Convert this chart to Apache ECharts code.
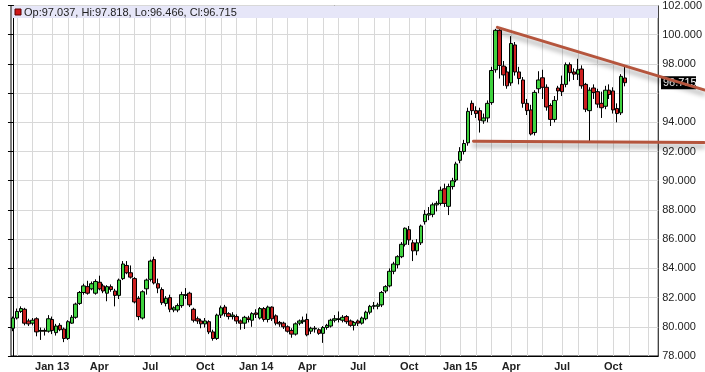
<!DOCTYPE html>
<html><head><meta charset="utf-8">
<script src="https://cdn.jsdelivr.net/npm/echarts@6/dist/echarts.min.js"></script>
<style>html,body{margin:0;padding:0;background:#fff}#c{width:705px;height:372px}</style>
</head><body><div id="c"></div>
<script>
// Weekly US Dollar Index candles, first week starting Mon 2012-10-29
const firstWeek = '2012-10-29';
const slotCount = 165; // weeks on the axis (data + empty space at right)

const weekOpen = [79.9,80.6,81.05,81.2,80.4,80.25,80.55,79.7,79.75,79.7,80.5,79.6,80.1,79.85,79.2,80.25,80.65,81.6,82.35,82.75,82.6,82.3,83.05,82.8,82.3,82.75,82.45,82.15,83.3,84.2,83.7,83.3,81.95,80.6,82.6,83.25,84.6,82.95,82.55,81.6,82.0,81.15,81.15,81.45,82.15,82.3,81.2,80.55,80.4,80.2,80.35,79.65,79.2,80.8,81.35,80.9,80.7,80.7,80.4,80.25,80.6,80.45,80.95,80.6,81.25,80.5,81.35,80.75,80.3,80.25,80.0,79.75,79.5,80.25,80.35,80.5,79.7,79.85,79.8,79.55,79.95,80.05,80.45,80.5,80.45,80.7,80.4,80.1,80.4,80.25,80.55,81.0,81.4,81.4,81.5,82.45,82.8,83.8,84.25,84.8,85.65,86.65,85.75,85.2,85.75,87.2,87.65,87.7,88.35,88.45,89.45,88.25,89.6,90.05,91.4,92.0,92.6,95.3,94.8,94.8,94.1,94.3,95.35,97.6,100.3,97.85,97.45,96.7,99.3,97.45,96.9,95.3,94.85,93.3,96.3,97.05,96.4,95.15,94.2,96.35,96.6,96.6,97.95,97.45,97.3,97.65,96.6,94.8,96.35,96.1,95.3,95.1,96.2,96.15,94.95,94.65,97.037];
const weekHigh = [80.7,81.25,81.4,81.3,80.55,80.6,80.65,79.95,79.9,80.8,80.7,80.2,80.25,79.95,80.45,80.8,81.65,82.45,82.95,83.15,83.1,83.25,83.5,82.95,82.85,82.9,82.6,83.3,84.5,84.5,84.2,83.4,82.1,82.5,83.3,84.6,84.8,83.3,82.7,82.1,82.2,81.4,81.6,82.4,82.65,82.4,81.3,80.7,80.55,80.6,80.45,79.8,80.9,81.45,81.5,81.0,81.0,80.85,80.5,80.75,80.75,81.0,81.2,81.35,81.35,81.45,81.4,80.85,80.4,80.35,80.1,79.9,80.3,80.5,80.7,80.9,80.0,80.05,79.9,80.05,80.2,80.55,80.8,81.05,80.8,80.8,80.5,80.4,80.5,80.7,81.1,81.5,81.7,81.65,82.45,82.85,84.0,84.45,84.9,85.8,86.8,86.9,85.95,86.0,87.0,88.0,88.2,88.5,88.6,89.6,89.8,89.8,90.2,91.3,92.3,92.8,95.0,95.5,95.1,95.0,94.6,95.5,97.8,100.4,100.45,98.2,97.8,99.9,99.5,97.8,97.1,95.6,95.2,96.2,97.5,97.6,96.6,95.3,95.8,96.5,97.2,98.1,98.1,97.7,98.35,97.9,96.7,96.4,96.6,96.3,96.1,96.5,96.6,96.4,95.3,97.3,97.818];
const weekLow = [79.7,80.5,80.95,80.1,80.05,80.1,79.35,79.1,79.4,79.6,79.5,79.4,79.7,78.95,79.1,80.2,80.55,81.5,82.2,82.2,82.5,82.2,82.5,82.3,81.75,82.4,81.4,81.9,83.2,83.6,83.3,81.6,80.45,80.5,82.2,83.1,82.9,82.3,81.5,81.4,81.0,81.0,81.0,81.3,81.9,81.35,80.3,80.2,79.9,79.95,79.5,79.05,79.1,80.6,80.7,80.5,80.5,80.2,79.8,79.85,80.3,80.0,80.6,80.5,80.35,80.3,80.4,80.1,80.0,79.85,79.6,79.25,79.4,80.1,80.2,79.35,79.5,79.6,79.45,78.9,79.8,79.95,80.3,80.3,80.3,80.2,80.0,79.75,80.05,80.15,80.45,80.85,81.2,81.2,81.35,82.3,82.7,83.6,84.0,84.7,85.5,85.6,84.5,84.9,85.6,87.0,87.3,87.5,87.9,88.3,88.2,87.65,89.4,89.9,91.2,91.8,92.4,94.5,94.3,93.3,93.9,94.0,95.2,97.4,97.0,96.5,96.3,96.5,97.2,96.6,95.0,94.5,93.1,93.1,96.0,95.6,94.8,93.75,94.0,95.5,95.8,96.4,96.8,96.9,96.9,96.3,94.7,92.7,95.6,95.0,94.3,94.9,95.6,94.6,94.0,94.5,96.466];
const weekClose = [80.6,81.05,81.25,80.25,80.2,80.45,79.65,79.75,79.7,80.55,79.75,80.05,79.8,79.2,80.35,80.65,81.55,82.35,82.8,82.3,82.95,83.1,82.6,82.45,82.75,82.55,82.15,83.2,84.3,83.7,83.4,81.7,80.7,82.4,83.2,84.5,83.0,82.65,81.65,81.95,81.2,81.3,81.45,82.2,82.2,81.5,80.45,80.4,80.2,80.4,79.65,79.2,80.8,81.3,80.9,80.7,80.8,80.4,80.25,80.65,80.5,80.9,80.85,81.25,80.5,81.35,80.55,80.25,80.2,80.0,79.7,79.5,80.2,80.4,80.45,79.45,79.9,79.9,79.55,79.95,80.1,80.45,80.55,80.55,80.65,80.35,80.1,80.3,80.25,80.6,81.0,81.4,81.45,81.5,82.35,82.75,83.8,84.3,84.8,85.65,86.75,85.95,85.2,85.75,86.9,87.7,87.75,88.35,88.45,89.35,88.45,89.6,90.0,91.15,92.0,92.55,94.75,94.8,94.6,94.15,94.3,95.3,97.55,100.3,97.9,97.25,96.5,99.4,97.45,97.0,95.3,94.8,93.2,96.05,96.9,96.4,95.05,94.2,95.5,96.15,96.1,97.95,97.4,97.3,97.6,96.5,94.9,96.2,96.05,95.25,95.0,96.2,95.9,94.85,94.6,97.15,96.715];

// quarterly tick labels (first Monday of the month)
const tickDates = ['2013-01-07','2013-04-01','2013-07-01','2013-10-07','2014-01-06','2014-04-07','2014-07-07','2014-10-06','2015-01-05','2015-04-06','2015-07-06','2015-10-05'];
const tickNames = ['Jan 13','Apr','Jul','Oct','Jan 14','Apr','Jul','Oct','Jan 15','Apr','Jul','Oct'];

// hand-drawn trend lines: [week index, value]
const upperTrend = [[123.5, 100.5], [176.2, 96.22]];
const lowerTrend = [[117.4, 92.70], [176.2, 92.62]];

const yMin = 78, yMax = 102, yStep = 2;

// ---- build ----
const weekDates = [];
const t0 = Date.parse(firstWeek + 'T00:00:00Z');
for (let i = 0; i < slotCount; i++) {
  weekDates.push(new Date(t0 + i * 7 * 86400000).toISOString().slice(0, 10));
}
const candles = weekOpen.map((o, i) => [o, weekClose[i], weekLow[i], weekHigh[i]]);
const tickMap = {};
tickDates.forEach((d, i) => tickMap[d] = tickNames[i]);
const last = candles.length - 1;
const lastClose = weekClose[last];

const chart = echarts.init(document.getElementById('c'), null, {renderer: 'canvas'});
const FONT = 'Liberation Sans, Arial, sans-serif';
const TREND = '#b5553d';

const option = {
  animation: false,
  backgroundColor: '#fff',
  grid: {left: 11, right: 46, top: 5, bottom: 16, show: true, borderColor: '#000', borderWidth: 1, backgroundColor: 'transparent'},
  xAxis: [{
    type: 'category', data: weekDates, boundaryGap: true,
    axisLine: {lineStyle: {color: '#000', width: 1}},
    axisTick: {show: false},
    axisLabel: {
      interval: (idx, val) => tickMap[val] !== undefined,
      formatter: v => tickMap[v] || '',
      fontFamily: FONT, fontSize: 11, fontWeight: 'bold', color: '#222', margin: 5
    },
    splitLine: {show: true, alignWithLabel: true, interval: (idx, val) => +val.slice(8) <= 7,
      lineStyle: {color: '#d8d8d8', width: 1}}
  }, {
    type: 'value', min: -0.5, max: slotCount - 0.5, show: false, splitLine: {show: false}
  }],
  yAxis: {
    type: 'value', position: 'right', min: yMin, max: yMax, interval: yStep, scale: true,
    axisLine: {show: true, lineStyle: {color: '#000'}},
    axisTick: {show: true, inside: true, length: 5, lineStyle: {color: '#000'}},
    axisLabel: {fontFamily: FONT, fontSize: 11, color: '#222', margin: 4,
      formatter: v => (Math.abs(v - 96) < 1e-9 ? '' : v.toFixed(3))},
    splitLine: {show: true, lineStyle: {color: '#d8d8d8', width: 1}}
  },
  series: [{
    type: 'candlestick', data: candles, barWidth: 4,
    itemStyle: {color: '#3fd23f', color0: '#cc2020', borderColor: '#000', borderColor0: '#000', borderWidth: 1},
    z: 2
  }]
};
chart.setOption(option);

const toPx = p => chart.convertToPixel({xAxisIndex: 1, yAxisIndex: 0}, p);
const trendShape = pts => {
  const a = toPx(pts[0]), b = toPx(pts[1]);
  return {x1: a[0], y1: a[1], x2: b[0], y2: b[1]};
};
const trendStyle = {stroke: TREND, lineWidth: 3, lineCap: 'round', shadowColor: 'rgba(0,0,0,0.38)', shadowBlur: 5, shadowOffsetY: 4};
const py = chart.convertToPixel({yAxisIndex: 0}, lastClose);
const fmt = v => v.toFixed(3);
chart.setOption({
  graphic: [
    {type: 'rect', z: 1, shape: {x: 12, y: 6, width: 646, height: 12}, style: {fill: '#e6e6f8'}},
    {type: 'rect', z: 1, shape: {x: 15, y: 9, width: 6, height: 6}, style: {fill: '#d01818', stroke: '#5a0000', lineWidth: 1}},
    {type: 'text', z: 1, x: 24, y: 12.5, style: {
      text: 'Op:' + fmt(weekOpen[last]) + ', Hi:' + fmt(weekHigh[last]) + ', Lo:' + fmt(weekLow[last]) + ', Cl:' + fmt(lastClose),
      font: '11px ' + FONT, fill: '#222', verticalAlign: 'middle'}},
    {type: 'rect', z: 1, shape: {x: 661, y: py - 6.5, width: 35, height: 13}, style: {fill: '#000'}},
    {type: 'text', z: 1, x: 663, y: py + 0.5, style: {text: lastClose.toFixed(3), font: '11px ' + FONT, fill: '#fff', verticalAlign: 'middle'}},
    {type: 'line', z: 10, silent: true, shape: trendShape(upperTrend), style: trendStyle},
    {type: 'line', z: 10, silent: true, shape: trendShape(lowerTrend), style: trendStyle}
  ]
});
</script>
</body></html>
